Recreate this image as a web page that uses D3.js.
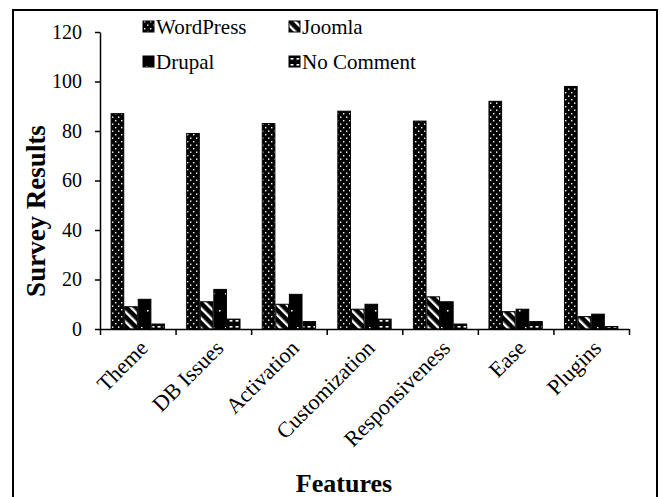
<!DOCTYPE html>
<html>
<head>
<meta charset="utf-8">
<script src="https://cdn.jsdelivr.net/npm/d3@7"></script>
<style>
body { margin: 0; background: #fff; }
svg text { font-family: "Liberation Serif", "Times New Roman", serif; fill: #000; }
</style>
</head>
<body>
<script>
// survey data
var features = ["Theme", "DB Issues", "Activation", "Customization", "Responsiveness", "Ease", "Plugins"];
var cms = ["WordPress", "Joomla", "Drupal", "No Comment"];
var wordpress = [87, 79, 83, 88, 84, 92, 98];
var joomla = [9, 11, 10, 8, 13, 7, 5];
var drupal = [12, 16, 14, 10, 11, 8, 6];
var noComment = [2, 4, 3, 4, 2, 3, 1];
var yTicks = [0, 20, 40, 60, 80, 100, 120];

var series = [wordpress, joomla, drupal, noComment];
var pats = ["pWp", "pJo", "pDr", "pNc"];

var w = 662, h = 497;

var svg = d3.select("body").append("svg")
.attr("width", w)
.attr("height", h);

// fill patterns, black with white marks
var defs = svg.append("defs");

var p = defs.append("pattern").attr("id", "pWp").attr("patternUnits", "userSpaceOnUse")
.attr("width", 6).attr("height", 7);
p.append("rect").attr("width", 6).attr("height", 7).attr("fill", "#000");
p.append("rect").attr("x", 1).attr("y", 1).attr("width", 1.4).attr("height", 1.4).attr("fill", "#fff");
p.append("rect").attr("x", 4).attr("y", 4.5).attr("width", 1.4).attr("height", 1.4).attr("fill", "#fff");

p = defs.append("pattern").attr("id", "pJo").attr("patternUnits", "userSpaceOnUse")
.attr("width", 7).attr("height", 7).attr("patternTransform", "rotate(-45)");
p.append("rect").attr("width", 7).attr("height", 7).attr("fill", "#000");
p.append("rect").attr("x", 0).attr("y", 0).attr("width", 2.4).attr("height", 7).attr("fill", "#fff");

p = defs.append("pattern").attr("id", "pDr").attr("patternUnits", "userSpaceOnUse")
.attr("width", 12).attr("height", 34);
p.append("rect").attr("width", 12).attr("height", 34).attr("fill", "#000");
p.append("rect").attr("x", 3).attr("y", 4).attr("width", 1.5).attr("height", 1.5).attr("fill", "#fff");
p.append("rect").attr("x", 9).attr("y", 21).attr("width", 1.5).attr("height", 1.5).attr("fill", "#fff");

p = defs.append("pattern").attr("id", "pNc").attr("patternUnits", "userSpaceOnUse")
.attr("width", 6).attr("height", 6);
p.append("rect").attr("width", 6).attr("height", 6).attr("fill", "#000");
p.append("rect").attr("x", 1.5).attr("y", 2).attr("width", 3).attr("height", 1.6).attr("fill", "#fff");

// outer frame
svg.append("rect")
.attr("x", 13).attr("y", 10)
.attr("width", 644).attr("height", 500)
.attr("fill", "none").attr("stroke", "#000").attr("stroke-width", 2);

var x0 = d3.scaleBand()
.domain(features)
.range([100, 629]);

var x1 = d3.scaleBand()
.domain(cms)
.range([0, x0.bandwidth()])
.paddingInner(0.07)
.paddingOuter(0.82);

var y = d3.scaleLinear()
.domain([0, 120])
.range([329, 32]);

var groups = svg.append("g")
.selectAll("g")
.data(series)
.join("g")
.attr("fill", (d, i) => "url(#" + pats[i] + ")");

groups.selectAll("rect")
.data((d, i) => d.map((v, j) => ({ f: features[j], c: cms[i], v: v })))
.join("rect")
.attr("x", d => x0(d.f) + x1(d.c))
.attr("y", d => y(d.v))
.attr("width", x1.bandwidth())
.attr("height", d => y(0) - y(d.v))
.attr("stroke", "#000")
.attr("stroke-width", 1);

// y axis
var yAxis = svg.append("g")
.attr("transform", "translate(100,0)")
.call(d3.axisLeft(y).tickValues(yTicks).tickSize(5).tickSizeOuter(0).tickPadding(13));
yAxis.selectAll("text").attr("font-size", 20).attr("font-family", "Liberation Serif");
yAxis.selectAll("line, path").attr("stroke", "#000").attr("stroke-width", 1.5);

// x axis: boundary ticks
var xb = d3.scaleLinear().domain([0, features.length]).range([100, 629]);
var xAxis = svg.append("g")
.attr("transform", "translate(0,329)")
.call(d3.axisBottom(xb).tickValues(d3.range(features.length + 1)).tickFormat("").tickSize(6).tickSizeOuter(0));
xAxis.selectAll("line, path").attr("stroke", "#000").attr("stroke-width", 1.5);

// category labels, rotated
var xLab = svg.append("g")
.attr("transform", "translate(0,329)")
.call(d3.axisBottom(x0).tickSize(0).tickPadding(0));
xLab.select(".domain").remove();
xLab.selectAll("text")
.attr("font-size", 22)
.attr("font-family", "Liberation Serif")
.attr("text-anchor", "end")
.attr("transform", "translate(6,15) rotate(-45)")
.attr("dy", "0.35em")
.attr("y", 0);

// axis titles
svg.append("text")
.attr("transform", "translate(45,211) rotate(-90)")
.attr("text-anchor", "middle")
.attr("font-size", 27)
.attr("font-weight", "bold")
.text("Survey Results");

svg.append("text")
.attr("x", 344).attr("y", 492)
.attr("text-anchor", "middle")
.attr("font-size", 26)
.attr("font-weight", "bold")
.text("Features");

// legend, two rows of two
var legend = svg.append("g")
.selectAll("g")
.data(cms)
.join("g")
.attr("transform", (d, i) => "translate(" + (143 + (i % 2) * 146) + "," + (27 + Math.floor(i / 2) * 35) + ")");

legend.append("rect")
.attr("x", 0).attr("y", -6)
.attr("width", 11).attr("height", 11)
.attr("fill", (d, i) => "url(#" + pats[i] + ")")
.attr("stroke", "#000");

legend.append("text")
.attr("x", 13).attr("y", 0)
.attr("dy", "0.35em")
.attr("font-size", 21)
.text(d => d);
</script>
</body>
</html>
